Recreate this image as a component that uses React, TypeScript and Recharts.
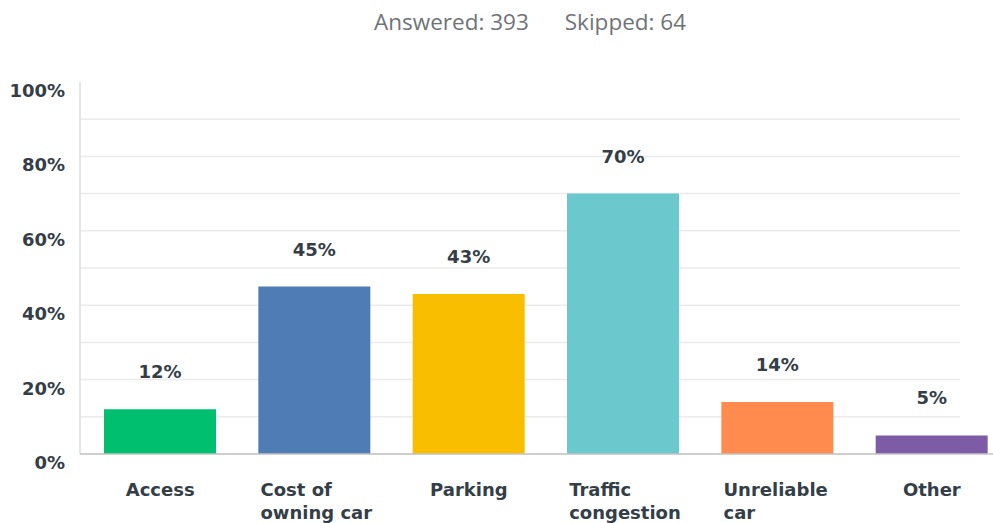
import React from "react";
import { BarChart, Bar, XAxis, YAxis, CartesianGrid, Cell, LabelList } from "recharts";

const categories = ["Access", "Cost of owning car", "Parking", "Traffic congestion", "Unreliable car", "Other"];
const percents = [12, 45, 43, 70, 14, 5];
const barColors = ["#00bf6f", "#507cb6", "#f9be00", "#6bc8cd", "#ff8b4f", "#7d5ba6"];
const yTicks = [0, 10, 20, 30, 40, 50, 60, 70, 80, 90, 100];
const labeledTicks = [0, 20, 40, 60, 80, 100];
const answered = 393;
const skipped = 64;

const data = categories.map((name, i) => ({ name, value: percents[i] }));

const FONT = "'DejaVu Sans', sans-serif";
const TEXT = "#333e48";
const GRID_RIGHT = 960;
const TOP = 82;

// wrap a category label into short lines (~11 chars)
function wrap(label: string, max = 11) {
  const words = label.split(" ");
  const lines: string[] = [];
  let cur = "";
  for (const w of words) {
    const next = cur ? cur + " " + w : w;
    if (next.length > max && cur) {
      lines.push(cur);
      cur = w;
    } else cur = next;
  }
  if (cur) lines.push(cur);
  return lines;
}

function XTick(props: any) {
  const { x, y, payload } = props;
  const lines = wrap(payload.value);
  const longest = Math.max(...lines.map((l) => l.length));
  const blockW = longest * 10.8;
  const left = lines.length > 1 ? x - blockW / 2 : x;
  return (
    <text
      x={left}
      y={y}
      textAnchor={lines.length > 1 ? "start" : "middle"}
      fill={TEXT}
      fontFamily={FONT}
      fontWeight={700}
      fontSize={18}
    >
      {lines.map((l, i) => (
        <tspan key={i} x={left} dy={i === 0 ? 34 : 23}>
          {l}
        </tspan>
      ))}
    </text>
  );
}

function YTick(props: any) {
  const { x, y, payload } = props;
  if (!labeledTicks.includes(payload.value)) return null;
  return (
    <text x={x - 2} y={y} dy={15} textAnchor="end" fill={TEXT} fontFamily={FONT} fontWeight={700} fontSize={18}>
      {payload.value}%
    </text>
  );
}

function GridLine(props: any) {
  const { x1, y1, y2 } = props;
  if (Math.abs(y1 - TOP) < 1) return <g key={props.key} />;
  return <line key={props.key} x1={x1} x2={GRID_RIGHT} y1={y1} y2={y2} stroke="#ebebeb" strokeWidth={1.5} />;
}

export default function App() {
  return (
    <div style={{ position: "absolute", left: 0, top: 0, width: 993, height: 523, overflow: "hidden", background: "#fff" }}>
      <div
        style={{
          position: "absolute",
          top: 6,
          left: 374,
          fontFamily: "'Open Sans', sans-serif",
          fontSize: 22.5,
          color: "#6f7378",
          whiteSpace: "nowrap",
        }}
      >
        <span>Answered: {answered}</span>
        <span style={{ marginLeft: 36 }}>Skipped: {skipped}</span>
      </div>
      <BarChart
        width={1010}
        height={523}
        data={data}
        margin={{ top: TOP, right: 1, left: 0, bottom: 9 }}
        barSize={112}
      >
        <CartesianGrid vertical={false} horizontal={GridLine} />
        <YAxis
          domain={[0, 100]}
          ticks={yTicks}
          width={80}
          tickLine={false}
          axisLine={{ stroke: "#dcdcdc", strokeWidth: 1.5 }}
          tick={<YTick />}
          tickMargin={7}
          interval={0}
        />
        <XAxis
          dataKey="name"
          height={60}
          padding={{ left: 3, right: 0 }}
          tickLine={false}
          axisLine={{ stroke: "#c4c4c4", strokeWidth: 1.5 }}
          tick={<XTick />}
          interval={0}
        />
        <Bar dataKey="value" isAnimationActive={false}>
          {data.map((d, i) => (
            <Cell key={d.name} fill={barColors[i]} />
          ))}
          <LabelList
            dataKey="value"
            position="top"
            offset={31}
            formatter={(v: any) => `${v}%`}
            fill={TEXT}
            fontFamily={FONT}
            fontWeight={700}
            fontSize={18}
          />
        </Bar>
      </BarChart>
    </div>
  );
}
